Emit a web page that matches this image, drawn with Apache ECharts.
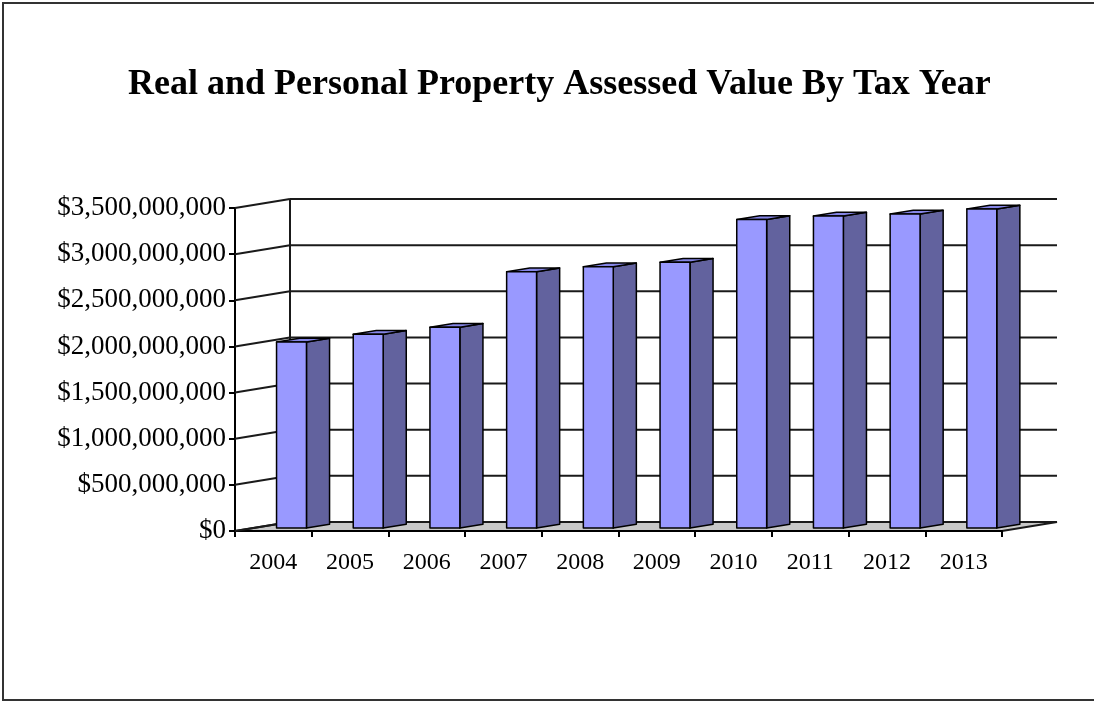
<!DOCTYPE html>
<html>
<head>
<meta charset="utf-8">
<style>
  html, body { margin: 0; padding: 0; background: #fff; }
  #chart { width: 1094px; height: 702px; }
</style>
<script src="https://cdn.jsdelivr.net/npm/echarts@6/dist/echarts.min.js"></script>
</head>
<body>
<div id="chart"></div>
<script>
// Assessed value (real + personal property) per tax year
const years = ['2004', '2005', '2006', '2007', '2008', '2009', '2010', '2011', '2012', '2013'];
const assessedValues = [2015000000, 2099000000, 2175000000, 2777000000, 2830000000, 2880000000, 3344000000, 3380000000, 3402000000, 3456000000];
// Value axis tick positions
const valueTicks = [0, 500000000, 1000000000, 1500000000, 2000000000, 2500000000, 3000000000, 3500000000];

// Perspective offset of the back wall relative to the front plane (pixels)
const DEPTH_X = 55;
const DEPTH_Y = -9;
// Bar front/back positions as fractions of the floor depth, and bar width as fraction of a category
const BAR_FRONT = 0.33;
const BAR_BACK = 0.75;
const BAR_WIDTH = 0.39;

const FONT = '"Liberation Serif", "Times New Roman", serif';

function money(v) {
  return '$' + Number(v).toLocaleString('en-US');
}

const chart = echarts.init(document.getElementById('chart'), null, { renderer: 'canvas' });

// Back wall gridlines and the slanted lines across the left wall, one per tick
function renderWallLine(params, api) {
  const cs = params.coordSys;
  const v = api.value(0);
  const y = api.coord([0, v])[1];
  const left = cs.x;
  const right = cs.x + cs.width;
  return {
    type: 'group',
    children: [
      {
        type: 'line',
        shape: { x1: left + DEPTH_X, y1: y + DEPTH_Y, x2: right + DEPTH_X, y2: y + DEPTH_Y },
        style: { stroke: '#1a1a1a', lineWidth: 2 }
      },
      {
        type: 'line',
        shape: { x1: left, y1: y, x2: left + DEPTH_X, y2: y + DEPTH_Y },
        style: { stroke: '#1a1a1a', lineWidth: 2 }
      }
    ]
  };
}

// Floor and wall edges
function renderFrame(params, api) {
  const cs = params.coordSys;
  const left = cs.x;
  const right = cs.x + cs.width;
  const yTop = api.coord([0, api.value(1)])[1];
  const yBase = api.coord([0, api.value(0)])[1];
  return {
    type: 'group',
    children: [
      {
        type: 'polygon',
        shape: { points: [[left, yBase], [right, yBase], [right + DEPTH_X, yBase + DEPTH_Y], [left + DEPTH_X, yBase + DEPTH_Y]] },
        style: { fill: '#c8c8c8', stroke: '#1a1a1a', lineWidth: 2 }
      },
      {
        type: 'line',
        shape: { x1: left + DEPTH_X, y1: yTop + DEPTH_Y, x2: left + DEPTH_X, y2: yBase + DEPTH_Y },
        style: { stroke: '#1a1a1a', lineWidth: 2 }
      }
    ]
  };
}

// 3-D column: front face, right side face and top
function renderBar(params, api) {
  const idx = api.value(0);
  const val = api.value(1);
  const top = api.coord([idx, val]);
  const base = api.coord([idx, 0]);
  const band = api.size([1, 0])[0];
  const half = band * BAR_WIDTH / 2;
  const x0 = top[0] - half;
  const x1 = top[0] + half;
  const yT = top[1];
  const yB = base[1];
  const fx = BAR_FRONT * DEPTH_X, fy = BAR_FRONT * DEPTH_Y;
  const bx = BAR_BACK * DEPTH_X, by = BAR_BACK * DEPTH_Y;
  const edge = { stroke: '#000', lineWidth: 1.5, lineJoin: 'round' };
  return {
    type: 'group',
    children: [
      {
        type: 'polygon',
        shape: { points: [[x1 + fx, yT + fy], [x1 + bx, yT + by], [x1 + bx, yB + by], [x1 + fx, yB + fy]] },
        style: Object.assign({ fill: '#62629e' }, edge)
      },
      {
        type: 'polygon',
        shape: { points: [[x0 + fx, yT + fy], [x1 + fx, yT + fy], [x1 + bx, yT + by], [x0 + bx, yT + by]] },
        style: Object.assign({ fill: '#8585e6' }, edge)
      },
      {
        type: 'rect',
        shape: { x: x0 + fx, y: yT + fy, width: x1 - x0, height: yB - yT },
        style: Object.assign({ fill: '#9999ff' }, edge)
      }
    ]
  };
}

const option = {
  backgroundColor: '#ffffff',
  animation: false,
  title: {
    text: 'Real and Personal Property Assessed Value By Tax Year',
    left: 123,
    top: 62,
    textStyle: { fontFamily: FONT, fontSize: 36, fontWeight: 'bold', color: '#000' }
  },
  graphic: [
    {
      type: 'rect',
      shape: { x: 3, y: 3, width: 1100, height: 697 },
      style: { fill: 'none', stroke: '#333', lineWidth: 2 },
      silent: true
    }
  ],
  grid: { left: 235, right: 92, top: 208, bottom: 171 },
  xAxis: {
    type: 'category',
    data: years,
    boundaryGap: true,
    axisLine: { show: true, lineStyle: { color: '#000', width: 2 } },
    axisTick: { show: true, interval: 0, length: 6, lineStyle: { color: '#000', width: 2 } },
    axisLabel: { fontFamily: FONT, fontSize: 24, color: '#000', margin: 20, interval: 0 },
    splitLine: { show: false },
    z: 1
  },
  yAxis: {
    type: 'value',
    min: 0,
    max: 3500000000,
    interval: 500000000,
    axisLine: { show: true, lineStyle: { color: '#000', width: 2 } },
    axisTick: { show: true, length: 6, lineStyle: { color: '#000', width: 2 } },
    axisLabel: { fontFamily: FONT, fontSize: 27, color: '#000', margin: 9, formatter: money },
    splitLine: { show: false }
  },
  series: [
    {
      type: 'custom',
      name: 'frame',
      clip: false,
      silent: true,
      z: 1,
      renderItem: renderFrame,
      data: [[valueTicks[0], valueTicks[valueTicks.length - 1]]]
    },
    {
      type: 'custom',
      name: 'walls',
      clip: false,
      silent: true,
      z: 2,
      renderItem: renderWallLine,
      data: valueTicks.map(v => [v])
    },
    {
      type: 'custom',
      name: 'Assessed Value',
      clip: false,
      z: 5,
      renderItem: renderBar,
      encode: { x: 0, y: 1 },
      data: assessedValues.map((v, i) => [i, v])
    }
  ]
};

chart.setOption(option);
</script>
</body>
</html>
